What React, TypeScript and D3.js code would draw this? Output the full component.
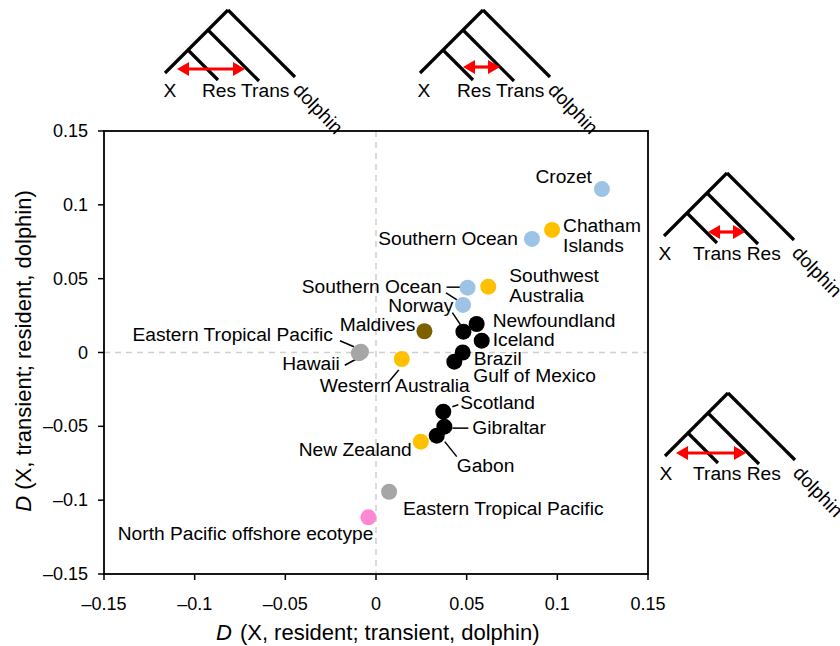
import React from "react";
import * as d3 from "d3";

const names = ["Crozet", "Chatham Islands", "Southern Ocean", "Southwest Australia", "Southern Ocean", "Southern Ocean", "Norway", "Newfoundland", "Iceland", "Brazil", "Gulf of Mexico", "Maldives", "Eastern Tropical Pacific", "Hawaii", "Western Australia", "Scotland", "Gibraltar", "Gabon", "New Zealand", "Eastern Tropical Pacific", "North Pacific offshore ecotype"];
const xValues = [0.1246, 0.0971, 0.086, 0.0619, 0.0505, 0.048, 0.0482, 0.0555, 0.0583, 0.0478, 0.0432, 0.0267, -0.0083, -0.0095, 0.0142, 0.0371, 0.0377, 0.0335, 0.0247, 0.0072, -0.0042];
const yValues = [0.1107, 0.083, 0.0769, 0.0446, 0.0439, 0.0322, 0.0141, 0.0193, 0.008, 0.0, -0.0062, 0.0144, 0.0005, -0.0005, -0.0044, -0.0401, -0.0502, -0.0563, -0.0604, -0.0943, -0.1116];
const groups = ["blue", "orange", "blue", "orange", "blue", "blue", "black", "black", "black", "black", "black", "brown", "gray", "gray", "orange", "black", "black", "black", "orange", "gray", "pink"];

const tickValues = [-0.15, -0.1, -0.05, 0, 0.05, 0.1, 0.15];
const tickLabels = ["\u20130.15", "\u20130.1", "\u20130.05", "0", "0.05", "0.1", "0.15"];

const xTitle = "(X, resident; transient, dolphin)";
const yTitle = "(X, transient; resident, dolphin)";

// tree diagrams: leaf labels
const treeLabels = [["Res", "Trans"], ["Res", "Trans"], ["Trans", "Res"], ["Trans", "Res"]];

// ---------- layout (positions / styles) ----------
const colors: Record<string, string> = {
  blue: "#9dc3e6",
  orange: "#ffc000",
  black: "#000000",
  brown: "#7f6000",
  gray: "#a6a6a6",
  pink: "#ff88d4",
};

type LabelLayout = { dx: number; dy: number; anchor: string; lines?: string[]; leader?: number[]; hide?: boolean };
const labelLayout: LabelLayout[] = [
  { dx: -10, dy: -6, anchor: "end" },
  { dx: 11, dy: 2, anchor: "start", lines: ["Chatham", "Islands"] },
  { dx: -14, dy: 6, anchor: "end" },
  { dx: 21, dy: -5, anchor: "start", lines: ["Southwest", "Australia"] },
  { dx: -26, dy: 5, anchor: "end", leader: [-21, -0.5, -7, -0.5] },
  { dx: 0, dy: 0, anchor: "end", hide: true, leader: [-17, -12, -6, -5] },
  { dx: -10, dy: -20, anchor: "end", leader: [-11, -19, -3, -7] },
  { dx: 16, dy: 3, anchor: "start" },
  { dx: 11, dy: 5, anchor: "start" },
  { dx: 11, dy: 12, anchor: "start" },
  { dx: 19, dy: 20, anchor: "start" },
  { dx: -9, dy: 0, anchor: "end" },
  { dx: -28, dy: -11, anchor: "end", leader: [-21, -11, -7, -5] },
  { dx: -19, dy: 17, anchor: "end", leader: [-14, 12, -1, 5] },
  { dx: -82, dy: 33, anchor: "start", leader: [-14, 24, -3, 11] },
  { dx: 17, dy: -3, anchor: "start", leader: [9, -5, 15, -7] },
  { dx: 28, dy: 7, anchor: "start", leader: [8, 1.5, 24, 1.5] },
  { dx: 20, dy: 36, anchor: "start", leader: [8, 6, 20, 21] },
  { dx: -9, dy: 14, anchor: "end" },
  { dx: 14, dy: 23, anchor: "start" },
  { dx: 5, dy: 23, anchor: "end" },
];

const trees = [
  { rx: 228, ry: 10, arrow: [-51, 17], ay: 59, labelDx: -26, xDx: -58 },
  { rx: 483, ry: 10, arrow: [-20, 17], ay: 57, labelDx: -26, xDx: -59 },
  { rx: 727, ry: 173, arrow: [-19, 18], ay: 59, labelDx: -34, xDx: -62 },
  { rx: 728, ry: 393, arrow: [-52, 18], ay: 60, labelDx: -35, xDx: -62 },
];

const FONT = "'Liberation Sans', Arial, sans-serif";
const FS = 19.2;
const TICK_FS = 18;
const TITLE_FS = 22;

function Tree({ t, labels }: { t: typeof trees[0]; labels: string[] }) {
  const { rx, ry } = t;
  const line = d3.line();
  const segs: [number, number][][] = [
    [[rx, ry], [rx - 63, ry + 63]],
    [[rx, ry], [rx + 67, ry + 67]],
    [[rx - 20, ry + 20], [rx + 31, ry + 71]],
    [[rx - 40, ry + 40], [rx - 10, ry + 70]],
  ];
  const ax1 = rx + t.arrow[0];
  const ax2 = rx + t.arrow[1];
  const ay = ry + t.ay;
  const hl = 12;
  const hh = 7;
  return (
    <g>
      {segs.map((s, i) => (
        <path key={i} d={line(s) || ""} stroke="#000" strokeWidth={3.2} fill="none" />
      ))}
      <line x1={ax1 + hl - 1} x2={ax2 - hl + 1} y1={ay} y2={ay} stroke="#ff0000" strokeWidth={3.2} />
      <path d={`M${ax1},${ay} L${ax1 + hl},${ay - hh} L${ax1 + hl},${ay + hh} Z`} fill="#ff0000" />
      <path d={`M${ax2},${ay} L${ax2 - hl},${ay - hh} L${ax2 - hl},${ay + hh} Z`} fill="#ff0000" />
      <text x={rx + t.xDx} y={ry + 87} textAnchor="middle" fontSize={FS} fontFamily={FONT}>X</text>
      <text x={rx + t.labelDx} y={ry + 87} fontSize={FS} fontFamily={FONT}>{labels.join(" ")}</text>
      <text transform={`translate(${rx + 64},${ry + 81}) rotate(46)`} x={0} y={0} fontSize={FS} fontFamily={FONT}>dolphin</text>
    </g>
  );
}

export default function App() {
  const x = d3.scaleLinear().domain([-0.15, 0.15]).range([104, 648]);
  const y = d3.scaleLinear().domain([-0.15, 0.15]).range([574, 131]);
  const r = 8;

  return (
    <svg width={840} height={646} style={{ position: "absolute", left: 0, top: 0, background: "#fff" }} fontFamily={FONT}>
      <rect x={0} y={0} width={840} height={646} fill="#fff" />
      <line x1={x(0)} x2={x(0)} y1={y(0.15)} y2={y(-0.15)} stroke="#d0d0d0" strokeWidth={1.5} strokeDasharray="6,5" />
      <line x1={x(-0.15)} x2={x(0.15)} y1={y(0)} y2={y(0)} stroke="#d0d0d0" strokeWidth={1.5} strokeDasharray="6,5" />
      <rect x={x(-0.15)} y={y(0.15)} width={x(0.15) - x(-0.15)} height={y(-0.15) - y(0.15)} fill="none" stroke="#000" strokeWidth={1.8} />
      {tickValues.map((v, i) => (
        <g key={"xt" + i}>
          <line x1={x(v)} x2={x(v)} y1={y(-0.15)} y2={y(-0.15) + 6} stroke="#000" strokeWidth={1.5} />
          <text x={x(v)} y={610} textAnchor="middle" fontSize={TICK_FS}>{tickLabels[i]}</text>
        </g>
      ))}
      {tickValues.map((v, i) => (
        <g key={"yt" + i}>
          <line x1={x(-0.15) - 6} x2={x(-0.15)} y1={y(v)} y2={y(v)} stroke="#000" strokeWidth={1.5} />
          <text x={88} y={y(v) + 6} textAnchor="end" fontSize={TICK_FS}>{tickLabels[i]}</text>
        </g>
      ))}
      <text x={216} y={640} fontSize={TITLE_FS}>
        <tspan fontStyle="italic">D</tspan>
        <tspan dx={8}>{xTitle}</tspan>
      </text>
      <text transform={`translate(31,351) rotate(-90)`} textAnchor="middle" fontSize={TITLE_FS}>
        <tspan fontStyle="italic">D</tspan>
        <tspan>{" " + yTitle}</tspan>
      </text>
      {names.map((n, i) => {
        const L = labelLayout[i];
        if (!L.leader) return null;
        const px = x(xValues[i]);
        const py = y(yValues[i]);
        return <line key={"ld" + i} x1={px + L.leader[0]} y1={py + L.leader[1]} x2={px + L.leader[2]} y2={py + L.leader[3]} stroke="#000" strokeWidth={1.5} />;
      })}
      {names.map((n, i) => (
        <circle key={"p" + i} cx={x(xValues[i])} cy={y(yValues[i])} r={r} fill={colors[groups[i]]} />
      ))}
      {names.map((n, i) => {
        const L = labelLayout[i];
        if (L.hide) return null;
        const px = x(xValues[i]);
        const py = y(yValues[i]);
        const lines = L.lines || [n];
        return (
          <text key={"lb" + i} x={px + L.dx} y={py + L.dy} textAnchor={L.anchor as any} fontSize={FS}>
            {lines.map((ln, j) => (
              <tspan key={j} x={px + L.dx} dy={j === 0 ? 0 : 20}>{ln}</tspan>
            ))}
          </text>
        );
      })}
      {trees.map((t, i) => (
        <Tree key={"tr" + i} t={t} labels={treeLabels[i]} />
      ))}
    </svg>
  );
}
